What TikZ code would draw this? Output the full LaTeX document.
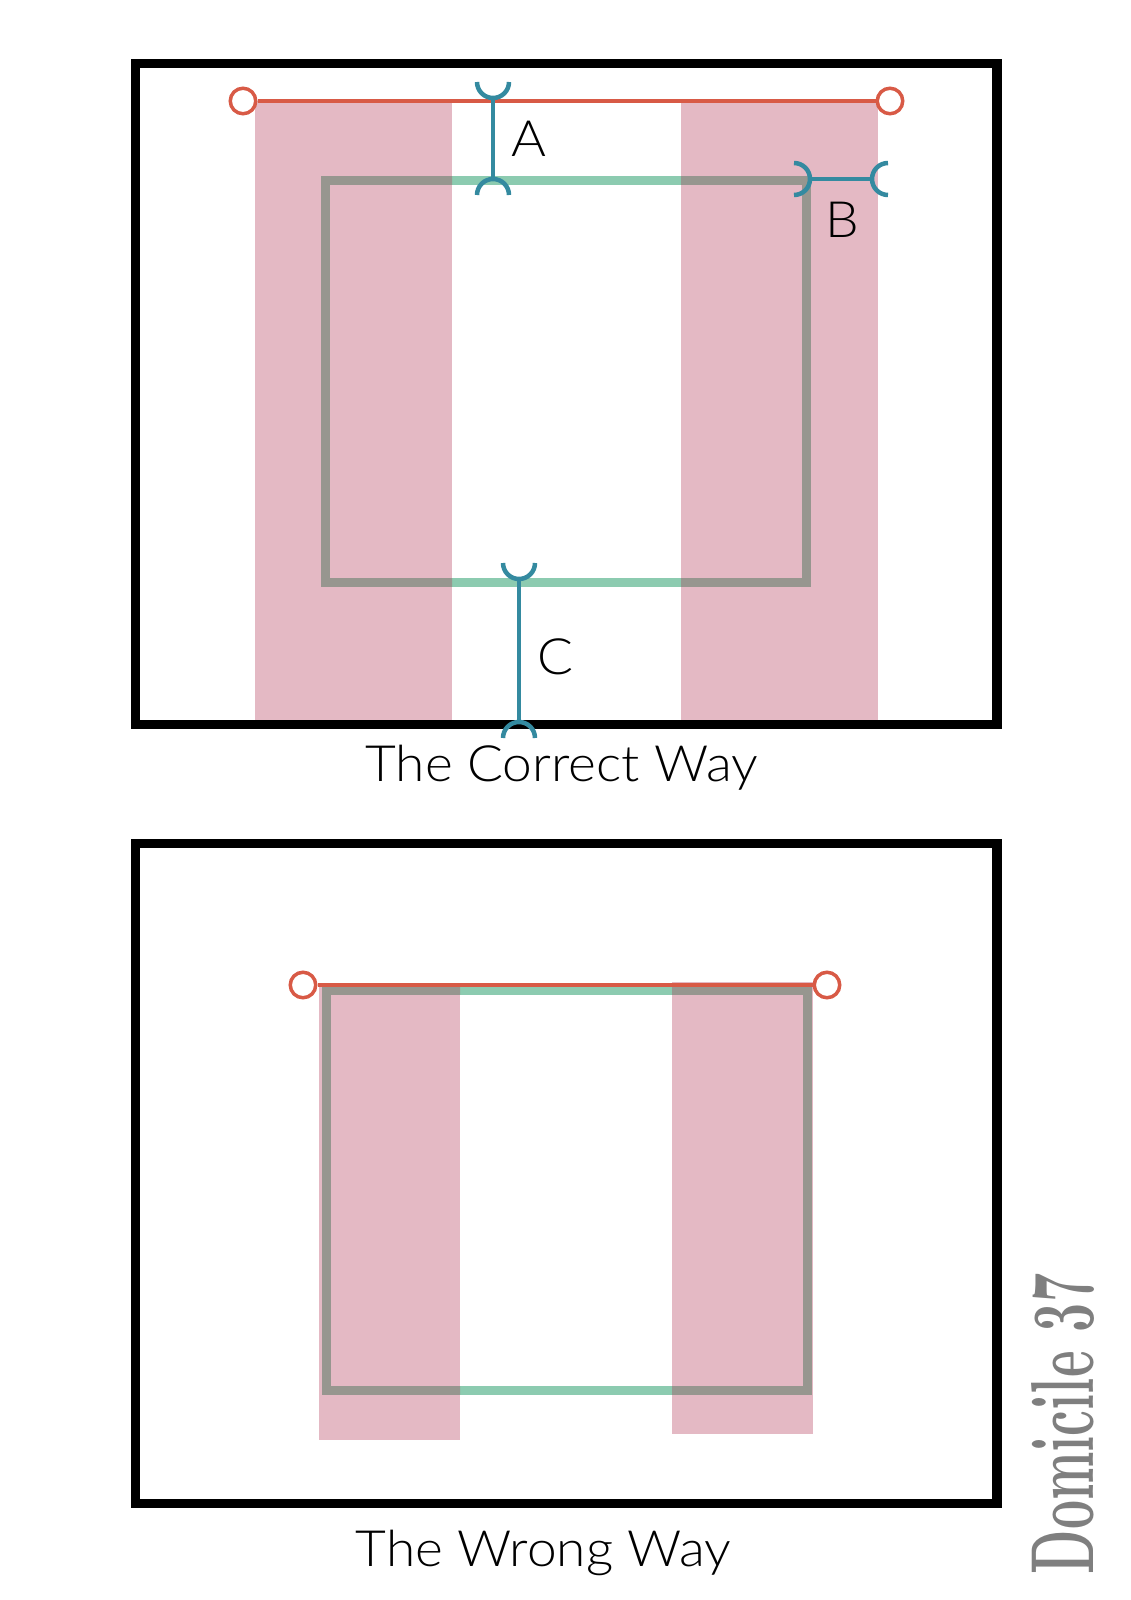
\documentclass[tikz,border=0pt]{standalone}
\usepackage{fontspec}
\IfFontExistsTF{Lato Light}{\newfontfamily\capfont[FakeStretch=1.065]{Lato Light}}{\newfontfamily\capfont[FakeStretch=1.065]{Lato}}
\definecolor{rodred}{HTML}{D85A46}
\definecolor{curtainpink}{HTML}{E4B9C4}
\definecolor{sillgray}{HTML}{97968F}
\definecolor{glassgreen}{HTML}{8CCBB0}
\definecolor{gapblue}{HTML}{348AA0}
\definecolor{logogray}{HTML}{7F7F7F}
\tikzset{%
  wall/.style    = {draw=black, line width=9.5pt},%
  curtain/.style = {fill=curtainpink},%
  pane/.style    = {draw=glassgreen, line width=9pt},%
  rod/.style     = {draw=rodred, line width=3.5pt},%
  ring/.style    = {circle, draw=rodred, fill=white, line width=3.5pt,%
                    minimum size=25.5pt, inner sep=0pt},%
  gap/.style     = {draw=gapblue, line width=4.5pt},%
  caption/.style = {anchor=base, font=\capfont\fontsize{50}{60}\selectfont},%
  logo/.style    = {text=logogray, inner sep=0pt, font=\bfseries}%
}
\begin{document}
\begin{tikzpicture}[x=1pt,y=-1pt]
	\useasboundingbox (0,0) rectangle (1131,1600);
	% the correct way
	\fill[curtain] (255,101) rectangle (452,720);%
	\fill[curtain] (681,101) rectangle (878,720);%
	\draw[pane] (325,180) rectangle (806,582);%
	\begin{scope}
		\clip (255,101) rectangle (452,720) (681,101) rectangle (878,720);
		\draw[pane,draw=sillgray] (325,180) rectangle (806,582);
	\end{scope}
	\draw[wall] (135.7,63.7) rectangle (997,724.7);%
	\node[ring] (ringTL) at (243,101) {};%
	\node[ring] (ringTR) at (890,101) {};%
	\draw[rod] (ringTL) -- (ringTR);%
	% gaps A, B, C
	\coordinate (Atop) at (493,98);
	\coordinate (Abot) at (493,179);
	\draw[gap] (Atop) -- (Abot);
	\draw[gap] (Atop) ++(-16,-16) arc[start angle=180,end angle=0,radius=16];
	\draw[gap] (Abot) ++(-16,16) arc[start angle=180,end angle=360,radius=16];
	\coordinate (Bl) at (810,179);
	\coordinate (Br) at (872,179);
	\draw[gap] (Bl) -- (Br);
	\draw[gap] (Bl) ++(-16,-16) arc[start angle=270,end angle=450,radius=16];
	\draw[gap] (Br) ++(16,-16) arc[start angle=270,end angle=90,radius=16];
	\coordinate (Ctop) at (519,579);
	\coordinate (Cbot) at (519,722);
	\draw[gap] (Ctop) -- (Cbot);
	\draw[gap] (Ctop) ++(-16,-16) arc[start angle=180,end angle=0,radius=16];
	\draw[gap] (Cbot) ++(-16,16) arc[start angle=180,end angle=360,radius=16];
	\node[caption] (labA) at (528.5,156) {A};%
	\node[caption] (labB) at (842,237) {B};%
	\node[caption] (labC) at (555.7,674) {C};%
	\node[caption] (titleOK) at (561.7,781.7) {The Correct Way};%
	% the wrong way
	\fill[curtain] (319,985) rectangle (460,1440);%
	\fill[curtain] (672,982) rectangle (813,1434);%
	\draw[pane] (326,990) rectangle (807.5,1390);%
	\begin{scope}
		\clip (319,985) rectangle (460,1440) (672,982) rectangle (813,1434);
		\draw[pane,draw=sillgray] (326,990) rectangle (807.5,1390);
	\end{scope}
	\draw[wall] (135.7,843.7) rectangle (997,1503.5);%
	\node[ring] (ringBL) at (303,985) {};%
	\node[ring] (ringBR) at (827,985) {};%
	\draw[rod] (ringBL) -- (ringBR);%
	\node[caption] (titleKO) at (543.5,1566) {The Wrong Way};%
	\node[logo,rotate=90] (logo) at (1062.5,1424) {\resizebox{300pt}{62pt}{Domicile 37}};%
\end{tikzpicture}
\end{document}
